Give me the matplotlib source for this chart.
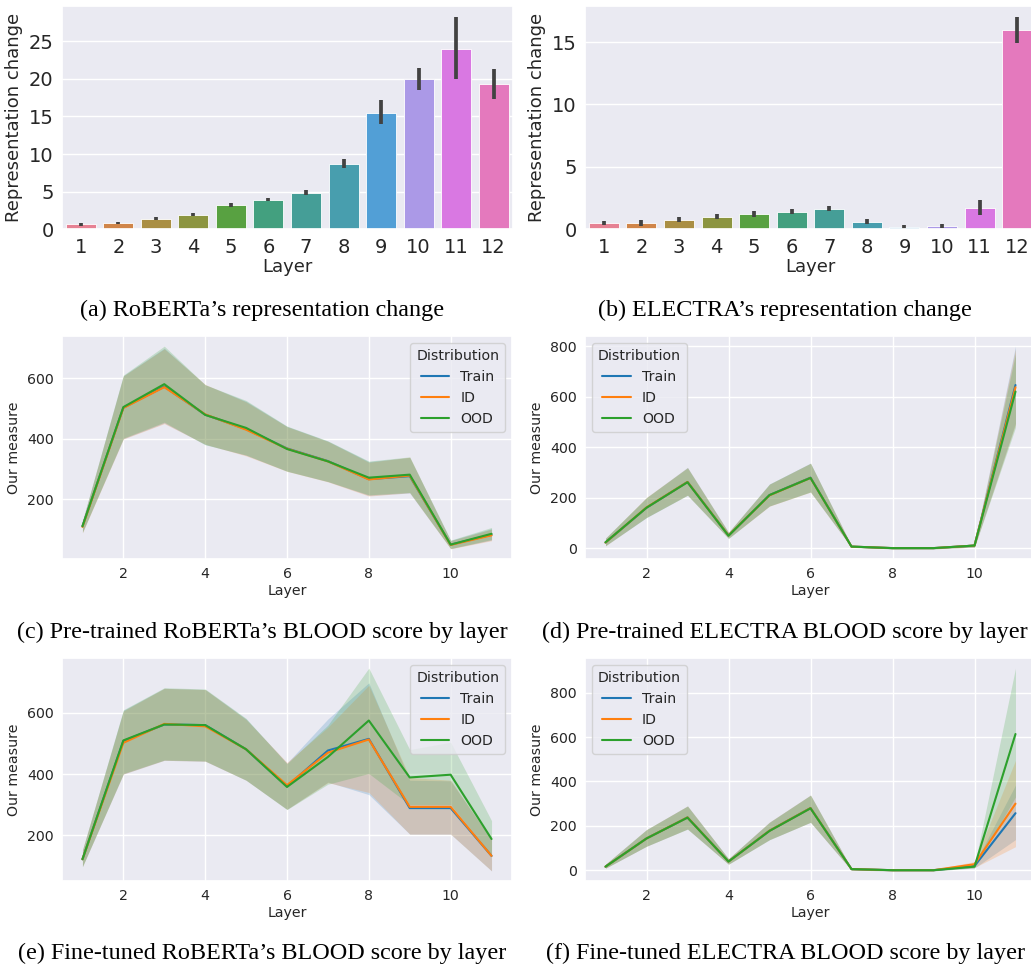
import numpy as np
import matplotlib
matplotlib.use("Agg")
import matplotlib.pyplot as plt
import seaborn as sns

# bar panels: representation change per layer (mean, ci low, ci high)
bar_layers = ["1", "2", "3", "4", "5", "6", "7", "8", "9", "10", "11", "12"]
roberta_change = [0.70, 0.88, 1.40, 1.93, 3.20, 3.95, 4.87, 8.73, 15.5, 19.96, 24.0, 19.3]
roberta_lo = [0.5, 0.75, 1.2, 1.75, 2.95, 3.7, 4.6, 8.2, 14.0, 18.5, 20.0, 17.3]
roberta_hi = [0.9, 1.0, 1.6, 2.2, 3.5, 4.2, 5.2, 9.3, 17.15, 21.4, 28.25, 21.3]
electra_change = [0.48, 0.48, 0.77, 1.0, 1.19, 1.41, 1.65, 0.61, 0.16, 0.24, 1.70, 15.95]
electra_lo = [0.35, 0.29, 0.61, 0.85, 0.96, 1.19, 1.43, 0.42, 0.05, 0.08, 1.17, 14.95]
electra_hi = [0.69, 0.77, 0.98, 1.19, 1.49, 1.65, 1.88, 0.82, 0.32, 0.42, 2.34, 17.04]

# line panels: BLOOD score by layer
layers = [1, 2, 3, 4, 5, 6, 7, 8, 9, 10, 11]
dists = ["Train", "ID", "OOD"]

# (c) pre-trained RoBERTa
c_mean = {"Train": [110, 503, 573, 480, 432, 368, 326, 266, 276, 49, 82],
          "ID": [108, 502, 571, 481, 430, 367, 325, 265, 278, 48, 80],
          "OOD": [110, 505, 581, 479, 436, 366, 325, 271, 281, 49, 85]}
c_lo = {"Train": [90, 400, 452, 381, 345, 293, 258, 212, 220, 36, 64],
        "ID": [88, 399, 450, 382, 343, 292, 257, 210, 221, 35, 62],
        "OOD": [90, 402, 455, 380, 346, 292, 258, 214, 222, 36, 66]}
c_hi = {"Train": [127, 609, 700, 579, 524, 441, 392, 324, 338, 63, 102],
        "ID": [126, 608, 698, 580, 522, 440, 391, 322, 339, 62, 100],
        "OOD": [128, 611, 707, 579, 527, 442, 393, 326, 340, 64, 106]}

# (d) pre-trained ELECTRA
d_mean = {"Train": [22, 160, 262, 50, 210, 279, 6, 0, 0, 10, 646],
          "ID": [22, 161, 262, 50, 209, 278, 6, 0, 0, 10, 637],
          "OOD": [23, 160, 261, 49, 210, 278, 6, 0, 0, 10, 620]}
d_lo = {"Train": [9, 121, 210, 39, 167, 223, 3, -3, -3, 4, 495],
        "ID": [9, 122, 210, 39, 166, 222, 3, -3, -3, 4, 490],
        "OOD": [10, 121, 209, 38, 167, 222, 3, -3, -3, 4, 478]}
d_hi = {"Train": [39, 200, 320, 63, 254, 337, 9, 3, 3, 17, 800],
        "ID": [39, 201, 319, 63, 253, 336, 9, 3, 3, 17, 790],
        "OOD": [40, 200, 318, 62, 254, 336, 9, 3, 3, 17, 770]}

# (e) fine-tuned RoBERTa
e_mean = {"Train": [122, 508, 562, 560, 481, 360, 477, 515, 289, 289, 133],
          "ID": [122, 502, 564, 556, 481, 364, 470, 513, 293, 293, 133],
          "OOD": [122, 510, 562, 560, 481, 358, 456, 575, 389, 398, 188]}
e_lo = {"Train": [98, 400, 445, 442, 380, 285, 374, 333, 204, 204, 84],
        "ID": [98, 400, 445, 442, 380, 285, 372, 340, 204, 204, 84],
        "OOD": [98, 402, 446, 443, 380, 284, 367, 402, 300, 300, 136]}
e_hi = {"Train": [152, 608, 680, 676, 580, 436, 580, 698, 380, 378, 185],
        "ID": [152, 606, 680, 676, 578, 438, 553, 690, 389, 380, 186],
        "OOD": [152, 610, 682, 678, 582, 434, 560, 746, 480, 504, 248]}

# (f) fine-tuned ELECTRA
f_mean = {"Train": [16, 143, 238, 39, 178, 280, 5, 0, 0, 19, 257],
          "ID": [16, 143, 238, 39, 178, 280, 5, 0, 0, 27, 300],
          "OOD": [16, 143, 237, 39, 177, 279, 5, 0, 0, 16, 614]}
f_lo = {"Train": [9, 108, 186, 27, 138, 216, 0, -3, -3, 10, 138],
        "ID": [9, 108, 186, 27, 138, 216, 0, -3, -3, 12, 106],
        "OOD": [9, 108, 185, 27, 137, 216, 0, -3, -3, 10, 330]}
f_hi = {"Train": [27, 183, 290, 52, 217, 339, 7, 3, 3, 28, 384],
        "ID": [27, 183, 290, 52, 217, 339, 7, 3, 3, 39, 495],
        "OOD": [27, 183, 289, 52, 216, 338, 7, 3, 3, 22, 911]}

captions = ["(a) RoBERTa\u2019s representation change",
            "(b) ELECTRA\u2019s representation change",
            "(c) Pre-trained RoBERTa\u2019s BLOOD score by layer",
            "(d) Pre-trained ELECTRA BLOOD score by layer",
            "(e) Fine-tuned RoBERTa\u2019s BLOOD score by layer",
            "(f) Fine-tuned ELECTRA BLOOD score by layer"]

sns.set_theme(style="darkgrid")
plt.rcParams['font.family'] = ['DejaVu Sans']

line_colors = {"Train": "#1f77b4", "ID": "#ff7f0e", "OOD": "#2ca02c"}
bar_colors = [sns.desaturate(c, 0.75) for c in sns.color_palette("husl", 12)]

fig = plt.figure(figsize=(10.31, 9.69), dpi=100)
W, H = 1031.0, 969.0


def add_ax(left, top, width, height):
    return fig.add_axes([left / W, 1 - (top + height) / H, width / W, height / H])


def bar_panel(ax, vals, lo, hi):
    x = np.arange(len(bar_layers))
    ax.bar(x, vals, width=0.8, color=bar_colors, edgecolor="white", linewidth=0.6)
    ax.vlines(x, lo, hi, color=".26", linewidth=2.7)
    ax.set_xticks(x)
    ax.set_xticklabels(bar_layers)
    ax.set_xlim(-0.5, len(bar_layers) - 0.5)
    ax.grid(axis="x", visible=False)
    ax.tick_params(labelsize=14, length=0, pad=6)
    ax.set_xlabel("Layer", fontsize=13, labelpad=1)
    ax.set_ylabel("Representation change", fontsize=13, labelpad=4)


def line_panel(ax, mean, lo, hi, loc):
    for d in dists:
        ax.fill_between(layers, lo[d], hi[d], color=line_colors[d], alpha=0.2, linewidth=0)
        ax.plot(layers, mean[d], color=line_colors[d], linewidth=1.5, label=d)
    ax.tick_params(labelsize=10.2, length=0, pad=6)
    ax.set_xlabel("Layer", fontsize=10.2, labelpad=2)
    ax.set_ylabel("Our measure", fontsize=10.2, labelpad=4)
    ax.legend(title="Distribution", loc=loc, fontsize=10.2, title_fontsize=10.2)


ax_a = add_ax(62, 6, 450.5, 223.3)
bar_panel(ax_a, roberta_change, roberta_lo, roberta_hi)
ax_a.set_yticks([0, 5, 10, 15, 20, 25])

ax_b = add_ax(585, 6, 451, 223.3)
bar_panel(ax_b, electra_change, electra_lo, electra_hi)
ax_b.set_yticks([0, 5, 10, 15])

ax_c = add_ax(62, 336, 450, 223)
line_panel(ax_c, c_mean, c_lo, c_hi, "upper right")

ax_d = add_ax(585, 336, 451, 223)
line_panel(ax_d, d_mean, d_lo, d_hi, "upper left")

ax_e = add_ax(62, 658, 450, 223)
line_panel(ax_e, e_mean, e_lo, e_hi, "upper right")

ax_f = add_ax(585, 658, 451, 223)
line_panel(ax_f, f_mean, f_lo, f_hi, "upper left")

cap_x = [262, 785]
cap_y = [310, 632, 953]
for i, cap in enumerate(captions):
    fig.text(cap_x[i % 2] / W, 1 - cap_y[i // 2] / H, cap, ha="center", va="center",
             fontsize=17.4, family="Liberation Serif", color="black")

fig.savefig("out.png", dpi=100)
